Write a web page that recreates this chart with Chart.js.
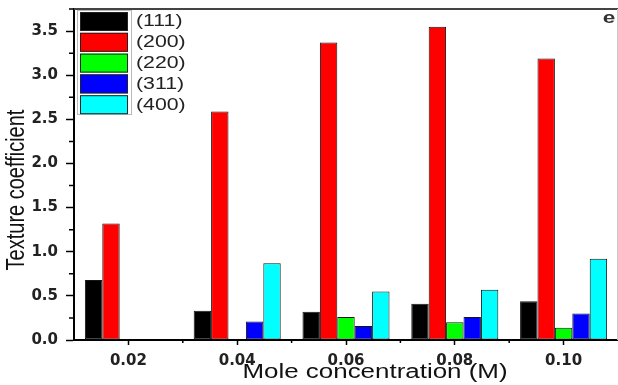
<!DOCTYPE html>
<html>
<head>
<meta charset="utf-8">
<script src="https://cdn.jsdelivr.net/npm/chart.js@4"></script>
<style>
  html, body { margin: 0; padding: 0; background: #fff; }
  #wrap { width: 618px; height: 385px; }
</style>
</head>
<body>
<div id="wrap"><canvas id="c" width="618" height="385"></canvas></div>
<script>
// Texture coefficient of each reflection vs. precursor mole concentration
const concentrations = ['0.02', '0.04', '0.06', '0.08', '0.10'];
const planes = ['(111)', '(200)', '(220)', '(311)', '(400)'];
const tc111 = [0.68, 0.33, 0.32, 0.41, 0.44];
const tc200 = [1.32, 2.59, 3.37, 3.55, 3.19];
const tc220 = [0, 0, 0.26, 0.20, 0.14];
const tc311 = [0, 0.21, 0.16, 0.26, 0.30];
const tc400 = [0, 0.87, 0.55, 0.57, 0.92];
const yMajorTicks = [0, 0.5, 1.0, 1.5, 2.0, 2.5, 3.0, 3.5];
const yMinorTicks = [0.25, 0.75, 1.25, 1.75, 2.25, 2.75, 3.25, 3.75];
const xTitle = 'Mole concentration (M)';
const yTitle = 'Texture coefficient';
const panelLabel = 'e';

const colors = ['#000000', '#ff0000', '#00ff00', '#0000ff', '#00ffff'];
const series = [tc111, tc200, tc220, tc311, tc400];

// text in this figure is set wide, so draw it with a horizontal stretch
const SX = 1.33;

const decorations = {
  id: 'decorations',
  afterDraw(chart) {
    const ctx = chart.ctx;
    const a = chart.chartArea;
    const xs = chart.scales.x;
    const ys = chart.scales.y;
    ctx.save();

    // top and right frame edges
    ctx.strokeStyle = '#444';
    ctx.lineWidth = 2;
    ctx.beginPath();
    ctx.moveTo(a.left, a.top);
    ctx.lineTo(a.right, a.top);
    ctx.stroke();
    ctx.strokeStyle = '#c8c8c8';
    ctx.lineWidth = 1;
    ctx.beginPath();
    ctx.moveTo(a.right - 0.5, a.top);
    ctx.lineTo(a.right - 0.5, a.bottom);
    ctx.stroke();

    // minor ticks
    ctx.strokeStyle = '#000';
    ctx.lineWidth = 1.5;
    ctx.beginPath();
    yMinorTicks.forEach(v => {
      const y = ys.getPixelForValue(v);
      ctx.moveTo(a.left - 5, y);
      ctx.lineTo(a.left, y);
    });
    for (let i = 0; i < concentrations.length - 1; i++) {
      const x = (xs.getPixelForValue(i) + xs.getPixelForValue(i + 1)) / 2;
      ctx.moveTo(x, a.bottom);
      ctx.lineTo(x, a.bottom + 3);
    }
    ctx.stroke();

    // axis titles
    ctx.fillStyle = '#111';
    ctx.textAlign = 'center';
    ctx.textBaseline = 'middle';
    ctx.font = '19.5px "Liberation Sans", Arial, sans-serif';
    ctx.save();
    ctx.translate(375, 373);
    ctx.scale(SX, 1);
    ctx.fillText(xTitle, 0, 0);
    ctx.restore();

    ctx.font = '20px "Liberation Sans", Arial, sans-serif';
    ctx.save();
    ctx.translate(17, 190);
    ctx.scale(SX, 1);
    ctx.rotate(-Math.PI / 2);
    ctx.fillText(yTitle, 0, 0);
    ctx.restore();

    // panel letter
    ctx.fillStyle = '#333';
    ctx.font = 'bold 17px "Liberation Sans", Arial, sans-serif';
    ctx.save();
    ctx.translate(609, 18);
    ctx.scale(SX, 1);
    ctx.fillText(panelLabel, 0, 0);
    ctx.restore();

    // legend
    const lx = 80, ly = 12, sw = 48, sh = 19, step = 20.8;
    ctx.strokeStyle = '#b8b8b8';
    ctx.lineWidth = 1;
    ctx.strokeRect(77.5, 10.5, 54, 104);
    chart.data.datasets.forEach((ds, i) => {
      const y = ly + i * step;
      ctx.fillStyle = ds.backgroundColor;
      ctx.fillRect(lx, y, sw, sh);
      ctx.strokeStyle = '#222';
      ctx.lineWidth = 1;
      ctx.strokeRect(lx + 0.5, y + 0.5, sw - 1, sh - 1);
      ctx.fillStyle = '#222';
      ctx.textAlign = 'left';
      ctx.font = '16px "Liberation Sans", Arial, sans-serif';
      ctx.save();
      ctx.translate(136, y + sh / 2 + 0.5);
      ctx.scale(SX, 1);
      ctx.fillText(ds.label, 0, 0);
      ctx.restore();
    });

    ctx.restore();
  }
};

new Chart(document.getElementById('c'), {
  type: 'bar',
  data: {
    labels: concentrations,
    datasets: planes.map((p, i) => ({
      label: p,
      data: series[i],
      backgroundColor: colors[i],
      borderColor: '#151515',
      borderWidth: 1,
      borderSkipped: false,
      categoryPercentage: 0.8,
      barPercentage: 1.0
    }))
  },
  options: {
    responsive: false,
    animation: false,
    devicePixelRatio: 1,
    layout: { padding: { top: 9, right: 0, left: 0, bottom: 0 } },
    plugins: {
      legend: { display: false },
      tooltip: { enabled: false },
      title: { display: false }
    },
    scales: {
      x: {
        grid: {
          offset: false,
          drawOnChartArea: false,
          tickLength: 5,
          tickWidth: 1.5,
          tickColor: '#000'
        },
        border: { display: true, color: '#000', width: 2 },
        ticks: {
          padding: 7,
          color: '#222',
          font: { family: '"DejaVu Sans"', size: 15, weight: 'bold' }
        },
        afterFit(scale) {
          scale.height = 45;
          scale.paddingLeft = 0;
          scale.paddingRight = 0;
        }
      },
      y: {
        min: 0,
        max: 3.75,
        afterBuildTicks(scale) {
          scale.ticks = yMajorTicks.map(v => ({ value: v }));
        },
        grid: {
          drawOnChartArea: false,
          tickLength: 8,
          tickWidth: 1.5,
          tickColor: '#000'
        },
        border: { display: true, color: '#000', width: 2 },
        ticks: {
          padding: 8,
          color: '#222',
          font: { family: '"DejaVu Sans"', size: 15, weight: 'bold' },
          callback: v => Number(v).toFixed(1)
        },
        afterFit(scale) {
          scale.width = 74;
          scale.paddingTop = 0;
          scale.paddingBottom = 0;
        }
      }
    }
  },
  plugins: [decorations]
});
</script>
</body>
</html>
